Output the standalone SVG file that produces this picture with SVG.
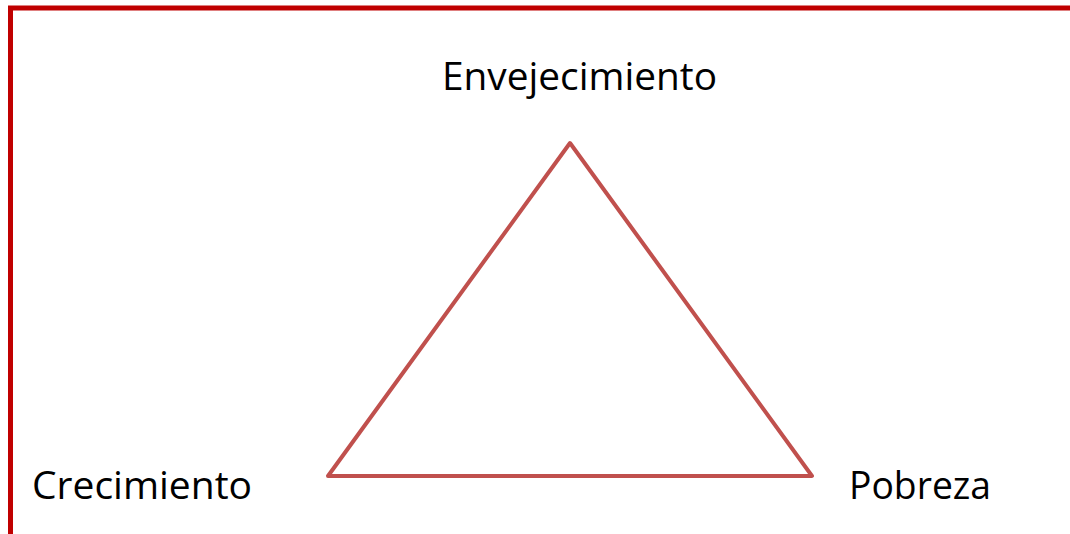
<svg xmlns="http://www.w3.org/2000/svg" width="1070" height="534" viewBox="0 0 1070 534">
<style>
.lbl{font-family:"Open Sans","Noto Sans","Liberation Sans",sans-serif;font-size:39px;fill:#000}
.frame{fill:none;stroke:#C00000;stroke-width:5}
.tri{fill:none;stroke:#C0504D;stroke-width:4;stroke-linejoin:round}
</style>
<rect width="1070" height="534" fill="#fff"/>
<path class="frame" d="M10.5,540 L10.5,8 L1080,8"/>
<g id="connectors">
<polygon class="tri" points="570,143 812,476 328,476"/>
</g>
<g id="node-envejecimiento"><text class="lbl" x="442" y="90" textLength="275" lengthAdjust="spacingAndGlyphs">Envejecimiento</text></g>
<g id="node-crecimiento"><text class="lbl" x="32" y="499" textLength="220" lengthAdjust="spacingAndGlyphs">Crecimiento</text></g>
<g id="node-pobreza"><text class="lbl" x="849" y="499" textLength="142" lengthAdjust="spacingAndGlyphs">Pobreza</text></g>
</svg>
